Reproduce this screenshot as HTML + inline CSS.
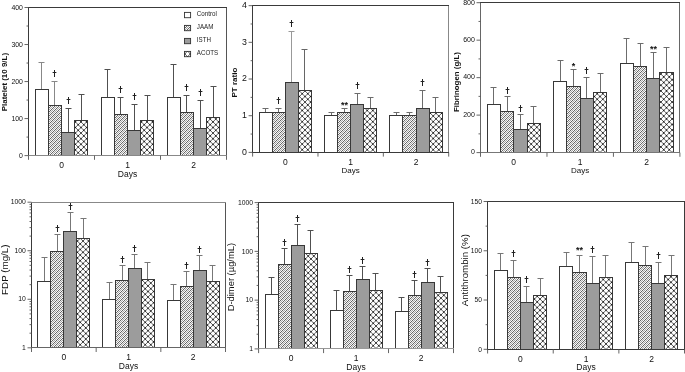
<!DOCTYPE html>
<html><head><meta charset="utf-8"><title>Figure</title>
<style>html,body{margin:0;padding:0;background:#fff;}body{width:685px;height:372px;position:relative;overflow:hidden;font-family:"Liberation Sans",sans-serif;}</style>
</head><body>
<svg width="685" height="372" viewBox="0 0 685 372" style="position:absolute;left:0;top:0;transform:translateZ(0);will-change:transform">
<defs>
<pattern id="hj" width="4" height="4" patternUnits="userSpaceOnUse"><rect x="0" y="0" width="1" height="1" fill="#666"/><rect x="0" y="1" width="1" height="1" fill="#f0f0f0"/><rect x="0" y="2" width="1" height="1" fill="#a6a6a6"/><rect x="0" y="3" width="1" height="1" fill="#fcfcfc"/><rect x="1" y="0" width="1" height="1" fill="#f0f0f0"/><rect x="1" y="1" width="1" height="1" fill="#a6a6a6"/><rect x="1" y="2" width="1" height="1" fill="#fcfcfc"/><rect x="1" y="3" width="1" height="1" fill="#666"/><rect x="2" y="0" width="1" height="1" fill="#a6a6a6"/><rect x="2" y="1" width="1" height="1" fill="#fcfcfc"/><rect x="2" y="2" width="1" height="1" fill="#666"/><rect x="2" y="3" width="1" height="1" fill="#f0f0f0"/><rect x="3" y="0" width="1" height="1" fill="#fcfcfc"/><rect x="3" y="1" width="1" height="1" fill="#666"/><rect x="3" y="2" width="1" height="1" fill="#f0f0f0"/><rect x="3" y="3" width="1" height="1" fill="#a6a6a6"/></pattern>
<g id="hat"><rect x="-9" y="-160" width="18" height="161" fill="#fff"/><path d="M-8,-152 L8,-168 M-8,-149.87 L8,-165.87 M-8,-147.74 L8,-163.74 M-8,-145.61 L8,-161.61 M-8,-143.48 L8,-159.48 M-8,-141.35 L8,-157.35 M-8,-139.22 L8,-155.22 M-8,-137.09 L8,-153.09 M-8,-134.96 L8,-150.96 M-8,-132.83 L8,-148.83 M-8,-130.7 L8,-146.7 M-8,-128.57 L8,-144.57 M-8,-126.44 L8,-142.44 M-8,-124.31 L8,-140.31 M-8,-122.18 L8,-138.18 M-8,-120.05 L8,-136.05 M-8,-117.92 L8,-133.92 M-8,-115.79 L8,-131.79 M-8,-113.66 L8,-129.66 M-8,-111.53 L8,-127.53 M-8,-109.4 L8,-125.4 M-8,-107.27 L8,-123.27 M-8,-105.14 L8,-121.14 M-8,-103.01 L8,-119.01 M-8,-100.88 L8,-116.88 M-8,-98.75 L8,-114.75 M-8,-96.62 L8,-112.62 M-8,-94.49 L8,-110.49 M-8,-92.36 L8,-108.36 M-8,-90.23 L8,-106.23 M-8,-88.1 L8,-104.1 M-8,-85.97 L8,-101.97 M-8,-83.84 L8,-99.84 M-8,-81.71 L8,-97.71 M-8,-79.58 L8,-95.58 M-8,-77.45 L8,-93.45 M-8,-75.32 L8,-91.32 M-8,-73.19 L8,-89.19 M-8,-71.06 L8,-87.06 M-8,-68.93 L8,-84.93 M-8,-66.8 L8,-82.8 M-8,-64.67 L8,-80.67 M-8,-62.54 L8,-78.54 M-8,-60.41 L8,-76.41 M-8,-58.28 L8,-74.28 M-8,-56.15 L8,-72.15 M-8,-54.02 L8,-70.02 M-8,-51.89 L8,-67.89 M-8,-49.76 L8,-65.76 M-8,-47.63 L8,-63.63 M-8,-45.5 L8,-61.5 M-8,-43.37 L8,-59.37 M-8,-41.24 L8,-57.24 M-8,-39.11 L8,-55.11 M-8,-36.98 L8,-52.98 M-8,-34.85 L8,-50.85 M-8,-32.72 L8,-48.72 M-8,-30.59 L8,-46.59 M-8,-28.46 L8,-44.46 M-8,-26.33 L8,-42.33 M-8,-24.2 L8,-40.2 M-8,-22.07 L8,-38.07 M-8,-19.94 L8,-35.94 M-8,-17.81 L8,-33.81 M-8,-15.68 L8,-31.68 M-8,-13.55 L8,-29.55 M-8,-11.42 L8,-27.42 M-8,-9.29 L8,-25.29 M-8,-7.16 L8,-23.16 M-8,-5.03 L8,-21.03 M-8,-2.9 L8,-18.9 M-8,-0.77 L8,-16.77 M-8,1.36 L8,-14.64 M-8,3.49 L8,-12.51 M-8,5.62 L8,-10.38 M-8,7.75 L8,-8.25 M-8,9.88 L8,-6.12 M-8,12.01 L8,-3.99 M-8,14.14 L8,-1.86 M-8,16.27 L8,0.27" stroke="#4a4a4a" stroke-width="0.85" fill="none"/></g>
<g id="lat"><rect x="-9" y="-160" width="18" height="161" fill="#fff"/><path d="M-179.2,0 L-9.2,-170 M-173.6,0 L-3.6,-170 M-168,0 L2,-170 M-162.4,0 L7.6,-170 M-156.8,0 L13.2,-170 M-151.2,0 L18.8,-170 M-145.6,0 L24.4,-170 M-140,0 L30,-170 M-134.4,0 L35.6,-170 M-128.8,0 L41.2,-170 M-123.2,0 L46.8,-170 M-117.6,0 L52.4,-170 M-112,0 L58,-170 M-106.4,0 L63.6,-170 M-100.8,0 L69.2,-170 M-95.2,0 L74.8,-170 M-89.6,0 L80.4,-170 M-84,0 L86,-170 M-78.4,0 L91.6,-170 M-72.8,0 L97.2,-170 M-67.2,0 L102.8,-170 M-61.6,0 L108.4,-170 M-56,0 L114,-170 M-50.4,0 L119.6,-170 M-44.8,0 L125.2,-170 M-39.2,0 L130.8,-170 M-33.6,0 L136.4,-170 M-28,0 L142,-170 M-22.4,0 L147.6,-170 M-16.8,0 L153.2,-170 M-11.2,0 L158.8,-170 M-5.6,0 L164.4,-170 M0,0 L170,-170 M5.6,0 L175.6,-170 M11.2,0 L181.2,-170 M16.8,0 L186.8,-170 M-16.8,0 L-186.8,-170 M-11.2,0 L-181.2,-170 M-5.6,0 L-175.6,-170 M0,0 L-170,-170 M5.6,0 L-164.4,-170 M11.2,0 L-158.8,-170 M16.8,0 L-153.2,-170 M22.4,0 L-147.6,-170 M28,0 L-142,-170 M33.6,0 L-136.4,-170 M39.2,0 L-130.8,-170 M44.8,0 L-125.2,-170 M50.4,0 L-119.6,-170 M56,0 L-114,-170 M61.6,0 L-108.4,-170 M67.2,0 L-102.8,-170 M72.8,0 L-97.2,-170 M78.4,0 L-91.6,-170 M84,0 L-86,-170 M89.6,0 L-80.4,-170 M95.2,0 L-74.8,-170 M100.8,0 L-69.2,-170 M106.4,0 L-63.6,-170 M112,0 L-58,-170 M117.6,0 L-52.4,-170 M123.2,0 L-46.8,-170 M128.8,0 L-41.2,-170 M134.4,0 L-35.6,-170 M140,0 L-30,-170 M145.6,0 L-24.4,-170 M151.2,0 L-18.8,-170 M156.8,0 L-13.2,-170 M162.4,0 L-7.6,-170 M168,0 L-2,-170 M173.6,0 L3.6,-170 M179.2,0 L9.2,-170" stroke="#444" stroke-width="0.85" fill="none"/><path d="M-179.2,0 L-9.2,-170 M-173.6,0 L-3.6,-170 M-168,0 L2,-170 M-162.4,0 L7.6,-170 M-156.8,0 L13.2,-170 M-151.2,0 L18.8,-170 M-145.6,0 L24.4,-170 M-140,0 L30,-170 M-134.4,0 L35.6,-170 M-128.8,0 L41.2,-170 M-123.2,0 L46.8,-170 M-117.6,0 L52.4,-170 M-112,0 L58,-170 M-106.4,0 L63.6,-170 M-100.8,0 L69.2,-170 M-95.2,0 L74.8,-170 M-89.6,0 L80.4,-170 M-84,0 L86,-170 M-78.4,0 L91.6,-170 M-72.8,0 L97.2,-170 M-67.2,0 L102.8,-170 M-61.6,0 L108.4,-170 M-56,0 L114,-170 M-50.4,0 L119.6,-170 M-44.8,0 L125.2,-170 M-39.2,0 L130.8,-170 M-33.6,0 L136.4,-170 M-28,0 L142,-170 M-22.4,0 L147.6,-170 M-16.8,0 L153.2,-170 M-11.2,0 L158.8,-170 M-5.6,0 L164.4,-170 M0,0 L170,-170 M5.6,0 L175.6,-170 M11.2,0 L181.2,-170 M16.8,0 L186.8,-170" stroke="#1a1a1a" stroke-width="1.55" stroke-linecap="round" stroke-dasharray="0 3.96" fill="none"/></g>
</defs>
<rect width="685" height="372" fill="#fff"/>
<g font-family="Liberation Sans, sans-serif" fill="#111">
<path d="M41.5,89.5 V62 M38.5,62.5 H44.5" stroke="#888" stroke-width="1" fill="none"/>
<rect x="35.5" y="89.5" width="13" height="66" fill="#fff" stroke="#383838" stroke-width="1"/>
<path d="M54.5,105.5 V81 M51.5,81.5 H57.5" stroke="#888" stroke-width="1" fill="none"/>
<rect x="48.5" y="105.5" width="13" height="50" fill="url(#hj)" stroke="#383838" stroke-width="1"/>
<path d="M54.5,70 V77 M52.6,72.5 H56.4" stroke="#222" stroke-width="1" fill="none"/>
<path d="M68.5,132.5 V108 M65.5,108.5 H71.5" stroke="#505050" stroke-width="1" fill="none"/>
<rect x="61.5" y="132.5" width="13" height="23" fill="#9c9c9c" stroke="#383838" stroke-width="1"/>
<path d="M68.5,97 V104 M66.6,99.5 H70.4" stroke="#222" stroke-width="1" fill="none"/>
<path d="M81.5,120.5 V94 M78.5,94.5 H84.5" stroke="#505050" stroke-width="1" fill="none"/>
<svg x="74.5" y="120.5" width="13" height="35" viewBox="-6.5 -35 13 35"><use href="#lat"/></svg>
<rect x="74.5" y="120.5" width="13" height="35" fill="none" stroke="#383838" stroke-width="1"/>
<path d="M107.5,97.5 V69 M104.5,69.5 H110.5" stroke="#505050" stroke-width="1" fill="none"/>
<rect x="101.5" y="97.5" width="13" height="58" fill="#fff" stroke="#383838" stroke-width="1"/>
<path d="M120.5,114.5 V97 M117.5,97.5 H123.5" stroke="#505050" stroke-width="1" fill="none"/>
<rect x="114.5" y="114.5" width="13" height="41" fill="url(#hj)" stroke="#383838" stroke-width="1"/>
<path d="M120.5,86 V93 M118.6,88.5 H122.4" stroke="#222" stroke-width="1" fill="none"/>
<path d="M134.5,130.5 V104 M131.5,104.5 H137.5" stroke="#505050" stroke-width="1" fill="none"/>
<rect x="127.5" y="130.5" width="13" height="25" fill="#9c9c9c" stroke="#383838" stroke-width="1"/>
<path d="M134.5,93 V100 M132.6,95.5 H136.4" stroke="#222" stroke-width="1" fill="none"/>
<path d="M147.5,120.5 V95 M144.5,95.5 H150.5" stroke="#505050" stroke-width="1" fill="none"/>
<svg x="140.5" y="120.5" width="13" height="35" viewBox="-6.5 -35 13 35"><use href="#lat"/></svg>
<rect x="140.5" y="120.5" width="13" height="35" fill="none" stroke="#383838" stroke-width="1"/>
<path d="M173.5,97.5 V64 M170.5,64.5 H176.5" stroke="#505050" stroke-width="1" fill="none"/>
<rect x="167.5" y="97.5" width="13" height="58" fill="#fff" stroke="#383838" stroke-width="1"/>
<path d="M186.5,112.5 V95 M183.5,95.5 H189.5" stroke="#505050" stroke-width="1" fill="none"/>
<rect x="180.5" y="112.5" width="13" height="43" fill="url(#hj)" stroke="#383838" stroke-width="1"/>
<path d="M186.5,84 V91 M184.6,86.5 H188.4" stroke="#222" stroke-width="1" fill="none"/>
<path d="M200.5,128.5 V100 M197.5,100.5 H203.5" stroke="#505050" stroke-width="1" fill="none"/>
<rect x="193.5" y="128.5" width="13" height="27" fill="#9c9c9c" stroke="#383838" stroke-width="1"/>
<path d="M200.5,89 V96 M198.6,91.5 H202.4" stroke="#222" stroke-width="1" fill="none"/>
<path d="M213.5,117.5 V86 M210.5,86.5 H216.5" stroke="#505050" stroke-width="1" fill="none"/>
<svg x="206.5" y="117.5" width="13" height="38" viewBox="-6.5 -38 13 38"><use href="#lat"/></svg>
<rect x="206.5" y="117.5" width="13" height="38" fill="none" stroke="#383838" stroke-width="1"/>
<path d="M28.5,7 V156" stroke="#3a3a3a" stroke-width="1"/>
<path d="M226.5,7 V156" stroke="#555" stroke-width="1"/>
<path d="M28,7.5 H227" stroke="#3a3a3a" stroke-width="1"/>
<path d="M28,155.5 H227" stroke="#888" stroke-width="1"/>
<text x="22.9" y="157.68" font-size="6.9" text-anchor="end">0</text>
<text x="22.9" y="120.66" font-size="6.9" text-anchor="end">100</text>
<text x="22.9" y="83.63" font-size="6.9" text-anchor="end">200</text>
<text x="22.9" y="46.61" font-size="6.9" text-anchor="end">300</text>
<text x="22.9" y="9.58" font-size="6.9" text-anchor="end">400</text>
<path d="M24.5,155.6 H28.5 M24.5,118.57 H28.5 M24.5,81.55 H28.5 M24.5,44.53 H28.5 M24.5,7.5 H28.5 M26.5,137.09 H28.5 M26.5,100.06 H28.5 M26.5,63.04 H28.5 M26.5,26.01 H28.5 M28.5,155.6 V159.8 M94.5,155.6 V159.8 M160.5,155.6 V159.8 M226.5,155.6 V159.8" stroke="#555" stroke-width="0.9" fill="none"/>
<text x="61.5" y="167.8" font-size="8.5" text-anchor="middle">0</text>
<text x="127.5" y="167.8" font-size="8.5" text-anchor="middle">1</text>
<text x="193.5" y="167.8" font-size="8.5" text-anchor="middle">2</text>
<text x="127.5" y="177.3" font-size="8.5" text-anchor="middle">Days</text>
<text transform="translate(7.06,82.1) rotate(-90)" font-size="7.95" text-anchor="middle" font-weight="bold">Platelet (10 9/L)</text>
</g>
<g font-family="Liberation Sans, sans-serif" fill="#111">
<path d="M265.5,112.5 V108 M262.5,108.5 H268.5" stroke="#6c6c6c" stroke-width="1" fill="none"/>
<rect x="259.5" y="112.5" width="13" height="40" fill="#fff" stroke="#383838" stroke-width="1"/>
<path d="M278.5,112.5 V108 M275.5,108.5 H281.5" stroke="#6c6c6c" stroke-width="1" fill="none"/>
<rect x="272.5" y="112.5" width="13" height="40" fill="url(#hj)" stroke="#383838" stroke-width="1"/>
<path d="M278.5,97 V104 M276.6,99.5 H280.4" stroke="#222" stroke-width="1" fill="none"/>
<path d="M291.5,82.5 V31 M288.5,31.5 H294.5" stroke="#999" stroke-width="1" fill="none"/>
<rect x="285.5" y="82.5" width="13" height="70" fill="#9c9c9c" stroke="#383838" stroke-width="1"/>
<path d="M291.5,20 V27 M289.6,22.5 H293.4" stroke="#222" stroke-width="1" fill="none"/>
<path d="M304.5,90.5 V49 M301.5,49.5 H307.5" stroke="#666" stroke-width="1" fill="none"/>
<svg x="298.5" y="90.5" width="13" height="62" viewBox="-6.5 -62 13 62"><use href="#lat"/></svg>
<rect x="298.5" y="90.5" width="13" height="62" fill="none" stroke="#383838" stroke-width="1"/>
<path d="M331.5,115.5 V112 M328.5,112.5 H334.5" stroke="#6c6c6c" stroke-width="1" fill="none"/>
<rect x="324.5" y="115.5" width="13" height="37" fill="#fff" stroke="#383838" stroke-width="1"/>
<path d="M344.5,112.5 V108 M341.5,108.5 H347.5" stroke="#6c6c6c" stroke-width="1" fill="none"/>
<rect x="337.5" y="112.5" width="13" height="40" fill="url(#hj)" stroke="#383838" stroke-width="1"/>
<text x="344.5" y="107.5" font-size="9" font-weight="bold" text-anchor="middle">**</text>
<path d="M357.5,104.5 V93 M354.5,93.5 H360.5" stroke="#6c6c6c" stroke-width="1" fill="none"/>
<rect x="350.5" y="104.5" width="13" height="48" fill="#9c9c9c" stroke="#383838" stroke-width="1"/>
<path d="M357.5,82 V89 M355.6,84.5 H359.4" stroke="#222" stroke-width="1" fill="none"/>
<path d="M370.5,108.5 V97 M367.5,97.5 H373.5" stroke="#6c6c6c" stroke-width="1" fill="none"/>
<svg x="363.5" y="108.5" width="13" height="44" viewBox="-6.5 -44 13 44"><use href="#lat"/></svg>
<rect x="363.5" y="108.5" width="13" height="44" fill="none" stroke="#383838" stroke-width="1"/>
<path d="M396.5,115.5 V112 M393.5,112.5 H399.5" stroke="#6c6c6c" stroke-width="1" fill="none"/>
<rect x="389.5" y="115.5" width="13" height="37" fill="#fff" stroke="#383838" stroke-width="1"/>
<path d="M409.5,115.5 V112 M406.5,112.5 H412.5" stroke="#6c6c6c" stroke-width="1" fill="none"/>
<rect x="402.5" y="115.5" width="14" height="37" fill="url(#hj)" stroke="#383838" stroke-width="1"/>
<path d="M422.5,108.5 V90 M419.5,90.5 H425.5" stroke="#6c6c6c" stroke-width="1" fill="none"/>
<rect x="416.5" y="108.5" width="13" height="44" fill="#9c9c9c" stroke="#383838" stroke-width="1"/>
<path d="M422.5,79 V86 M420.6,81.5 H424.4" stroke="#222" stroke-width="1" fill="none"/>
<path d="M435.5,112.5 V97 M432.5,97.5 H438.5" stroke="#6c6c6c" stroke-width="1" fill="none"/>
<svg x="429.5" y="112.5" width="13" height="40" viewBox="-6.5 -40 13 40"><use href="#lat"/></svg>
<rect x="429.5" y="112.5" width="13" height="40" fill="none" stroke="#383838" stroke-width="1"/>
<path d="M252.5,5 V153" stroke="#3a3a3a" stroke-width="1"/>
<path d="M448.5,5 V153" stroke="#888" stroke-width="1"/>
<path d="M252,5.5 H449" stroke="#3a3a3a" stroke-width="1"/>
<path d="M252,152.5 H449" stroke="#3a3a3a" stroke-width="1"/>
<text x="247" y="154.87" font-size="8.8" text-anchor="end">0</text>
<text x="247" y="118.18" font-size="8.8" text-anchor="end">1</text>
<text x="247" y="81.49" font-size="8.8" text-anchor="end">2</text>
<text x="247" y="44.81" font-size="8.8" text-anchor="end">3</text>
<text x="247" y="8.12" font-size="8.8" text-anchor="end">4</text>
<path d="M248.6,152.4 H252.6 M248.6,115.71 H252.6 M248.6,79.03 H252.6 M248.6,42.34 H252.6 M248.6,5.65 H252.6 M250.6,134.06 H252.6 M250.6,97.37 H252.6 M250.6,60.68 H252.6 M250.6,23.99 H252.6 M252.6,152.4 V156.6 M317.97,152.4 V156.6 M383.33,152.4 V156.6 M448.7,152.4 V156.6" stroke="#555" stroke-width="0.9" fill="none"/>
<text x="285.28" y="164.6" font-size="8.5" text-anchor="middle">0</text>
<text x="350.65" y="164.6" font-size="8.5" text-anchor="middle">1</text>
<text x="416.02" y="164.6" font-size="8.5" text-anchor="middle">2</text>
<text x="350.65" y="173.2" font-size="8" text-anchor="middle">Days</text>
<text transform="translate(236.88,82.6) rotate(-90)" font-size="8.0" text-anchor="middle" font-weight="bold">PT ratio</text>
</g>
<g font-family="Liberation Sans, sans-serif" fill="#111">
<path d="M493.5,104.5 V87 M490.5,87.5 H496.5" stroke="#6c6c6c" stroke-width="1" fill="none"/>
<rect x="487.5" y="104.5" width="13" height="48" fill="#fff" stroke="#383838" stroke-width="1"/>
<path d="M507.5,111.5 V96 M504.5,96.5 H510.5" stroke="#6c6c6c" stroke-width="1" fill="none"/>
<rect x="500.5" y="111.5" width="13" height="41" fill="url(#hj)" stroke="#383838" stroke-width="1"/>
<path d="M507.5,87 V94 M505.6,89.5 H509.4" stroke="#222" stroke-width="1" fill="none"/>
<path d="M520.5,129.5 V114 M517.5,114.5 H523.5" stroke="#6c6c6c" stroke-width="1" fill="none"/>
<rect x="513.5" y="129.5" width="14" height="23" fill="#9c9c9c" stroke="#383838" stroke-width="1"/>
<path d="M520.5,105 V112 M518.6,107.5 H522.4" stroke="#222" stroke-width="1" fill="none"/>
<path d="M533.5,123.5 V106 M530.5,106.5 H536.5" stroke="#6c6c6c" stroke-width="1" fill="none"/>
<svg x="527.5" y="123.5" width="13" height="29" viewBox="-6.5 -29 13 29"><use href="#lat"/></svg>
<rect x="527.5" y="123.5" width="13" height="29" fill="none" stroke="#383838" stroke-width="1"/>
<path d="M560.5,81.5 V60 M557.5,60.5 H563.5" stroke="#6c6c6c" stroke-width="1" fill="none"/>
<rect x="553.5" y="81.5" width="13" height="71" fill="#fff" stroke="#383838" stroke-width="1"/>
<path d="M573.5,86.5 V69 M570.5,69.5 H576.5" stroke="#6c6c6c" stroke-width="1" fill="none"/>
<rect x="566.5" y="86.5" width="14" height="66" fill="url(#hj)" stroke="#383838" stroke-width="1"/>
<text x="573.5" y="69.1" font-size="9" font-weight="bold" text-anchor="middle">*</text>
<path d="M586.5,98.5 V77 M583.5,77.5 H589.5" stroke="#6c6c6c" stroke-width="1" fill="none"/>
<rect x="580.5" y="98.5" width="13" height="54" fill="#9c9c9c" stroke="#383838" stroke-width="1"/>
<path d="M586.5,67 V74 M584.6,69.5 H588.4" stroke="#222" stroke-width="1" fill="none"/>
<path d="M600.5,92.5 V73 M597.5,73.5 H603.5" stroke="#6c6c6c" stroke-width="1" fill="none"/>
<svg x="593.5" y="92.5" width="13" height="60" viewBox="-6.5 -60 13 60"><use href="#lat"/></svg>
<rect x="593.5" y="92.5" width="13" height="60" fill="none" stroke="#383838" stroke-width="1"/>
<path d="M626.5,63.5 V38 M623.5,38.5 H629.5" stroke="#6c6c6c" stroke-width="1" fill="none"/>
<rect x="620.5" y="63.5" width="13" height="89" fill="#fff" stroke="#383838" stroke-width="1"/>
<path d="M640.5,66.5 V43 M637.5,43.5 H643.5" stroke="#6c6c6c" stroke-width="1" fill="none"/>
<rect x="633.5" y="66.5" width="13" height="86" fill="url(#hj)" stroke="#383838" stroke-width="1"/>
<path d="M653.5,78.5 V52 M650.5,52.5 H656.5" stroke="#6c6c6c" stroke-width="1" fill="none"/>
<rect x="646.5" y="78.5" width="13" height="74" fill="#9c9c9c" stroke="#383838" stroke-width="1"/>
<text x="653.5" y="51.7" font-size="9" font-weight="bold" text-anchor="middle">**</text>
<path d="M666.5,72.5 V47 M663.5,47.5 H669.5" stroke="#6c6c6c" stroke-width="1" fill="none"/>
<svg x="659.5" y="72.5" width="14" height="80" viewBox="-7 -80 14 80"><use href="#lat"/></svg>
<rect x="659.5" y="72.5" width="14" height="80" fill="none" stroke="#383838" stroke-width="1"/>
<path d="M480.5,2 V153" stroke="#666" stroke-width="1"/>
<path d="M679.5,2 V153" stroke="#666" stroke-width="1"/>
<path d="M480,2.5 H680" stroke="#3a3a3a" stroke-width="1"/>
<path d="M480,152.5 H680" stroke="#777" stroke-width="1"/>
<text x="474.9" y="154.42" font-size="7.0" text-anchor="end">0</text>
<text x="474.9" y="116.94" font-size="7.0" text-anchor="end">200</text>
<text x="474.9" y="79.47" font-size="7.0" text-anchor="end">400</text>
<text x="474.9" y="41.99" font-size="7.0" text-anchor="end">600</text>
<text x="474.9" y="4.52" font-size="7.0" text-anchor="end">800</text>
<path d="M476.5,152.6 H480.5 M476.5,115.12 H480.5 M476.5,77.65 H480.5 M476.5,40.17 H480.5 M476.5,2.7 H480.5 M478.5,133.86 H480.5 M478.5,96.39 H480.5 M478.5,58.91 H480.5 M478.5,21.44 H480.5 M480.5,152.6 V156.8 M546.97,152.6 V156.8 M613.43,152.6 V156.8 M679.9,152.6 V156.8" stroke="#555" stroke-width="0.9" fill="none"/>
<text x="513.73" y="164.8" font-size="8.5" text-anchor="middle">0</text>
<text x="580.2" y="164.8" font-size="8.5" text-anchor="middle">1</text>
<text x="646.67" y="164.8" font-size="8.5" text-anchor="middle">2</text>
<text x="580.2" y="173.4" font-size="8" text-anchor="middle">Days</text>
<text transform="translate(458.53,82.1) rotate(-90)" font-size="7.87" text-anchor="middle" font-weight="bold">Fibrinogen (g/L)</text>
</g>
<g font-family="Liberation Sans, sans-serif" fill="#111">
<path d="M44.5,281.5 V257 M41.5,257.5 H47.5" stroke="#777" stroke-width="1" fill="none"/>
<rect x="37.5" y="281.5" width="13" height="66" fill="#fff" stroke="#383838" stroke-width="1"/>
<path d="M57.5,251.5 V234 M54.5,234.5 H60.5" stroke="#777" stroke-width="1" fill="none"/>
<rect x="50.5" y="251.5" width="13" height="96" fill="url(#hj)" stroke="#383838" stroke-width="1"/>
<path d="M57.5,225 V232 M55.6,227.5 H59.4" stroke="#222" stroke-width="1" fill="none"/>
<path d="M70.5,231.5 V212 M67.5,212.5 H73.5" stroke="#777" stroke-width="1" fill="none"/>
<rect x="63.5" y="231.5" width="13" height="116" fill="#9c9c9c" stroke="#383838" stroke-width="1"/>
<path d="M70.5,203 V210 M68.6,205.5 H72.4" stroke="#222" stroke-width="1" fill="none"/>
<path d="M83.5,238.5 V218 M80.5,218.5 H86.5" stroke="#777" stroke-width="1" fill="none"/>
<svg x="76.5" y="238.5" width="13" height="109" viewBox="-6.5 -109 13 109"><use href="#lat"/></svg>
<rect x="76.5" y="238.5" width="13" height="109" fill="none" stroke="#383838" stroke-width="1"/>
<path d="M109.5,299.5 V282 M106.5,282.5 H112.5" stroke="#777" stroke-width="1" fill="none"/>
<rect x="102.5" y="299.5" width="13" height="48" fill="#fff" stroke="#383838" stroke-width="1"/>
<path d="M122.5,280.5 V265 M119.5,265.5 H125.5" stroke="#777" stroke-width="1" fill="none"/>
<rect x="115.5" y="280.5" width="13" height="67" fill="url(#hj)" stroke="#383838" stroke-width="1"/>
<path d="M122.5,256 V263 M120.6,258.5 H124.4" stroke="#222" stroke-width="1" fill="none"/>
<path d="M134.5,268.5 V254 M131.5,254.5 H137.5" stroke="#777" stroke-width="1" fill="none"/>
<rect x="128.5" y="268.5" width="13" height="79" fill="#9c9c9c" stroke="#383838" stroke-width="1"/>
<path d="M134.5,245 V252 M132.6,247.5 H136.4" stroke="#222" stroke-width="1" fill="none"/>
<path d="M147.5,279.5 V262 M144.5,262.5 H150.5" stroke="#777" stroke-width="1" fill="none"/>
<svg x="141.5" y="279.5" width="13" height="68" viewBox="-6.5 -68 13 68"><use href="#lat"/></svg>
<rect x="141.5" y="279.5" width="13" height="68" fill="none" stroke="#383838" stroke-width="1"/>
<path d="M173.5,300.5 V284 M170.5,284.5 H176.5" stroke="#777" stroke-width="1" fill="none"/>
<rect x="167.5" y="300.5" width="13" height="47" fill="#fff" stroke="#383838" stroke-width="1"/>
<path d="M186.5,286.5 V271 M183.5,271.5 H189.5" stroke="#777" stroke-width="1" fill="none"/>
<rect x="180.5" y="286.5" width="13" height="61" fill="url(#hj)" stroke="#383838" stroke-width="1"/>
<path d="M186.5,262 V269 M184.6,264.5 H188.4" stroke="#222" stroke-width="1" fill="none"/>
<path d="M199.5,270.5 V255 M196.5,255.5 H202.5" stroke="#777" stroke-width="1" fill="none"/>
<rect x="193.5" y="270.5" width="13" height="77" fill="#9c9c9c" stroke="#383838" stroke-width="1"/>
<path d="M199.5,246 V253 M197.6,248.5 H201.4" stroke="#222" stroke-width="1" fill="none"/>
<path d="M212.5,281.5 V265 M209.5,265.5 H215.5" stroke="#777" stroke-width="1" fill="none"/>
<svg x="206.5" y="281.5" width="13" height="66" viewBox="-6.5 -66 13 66"><use href="#lat"/></svg>
<rect x="206.5" y="281.5" width="13" height="66" fill="none" stroke="#383838" stroke-width="1"/>
<path d="M31.5,202 V348" stroke="#3a3a3a" stroke-width="1"/>
<path d="M225.5,202 V348" stroke="#555" stroke-width="1"/>
<path d="M31,202.5 H226" stroke="#888" stroke-width="1"/>
<path d="M31,347.5 H226" stroke="#666" stroke-width="1"/>
<text x="25.9" y="349.95" font-size="6.8" text-anchor="end">1</text>
<text x="25.9" y="301.41" font-size="6.8" text-anchor="end">10</text>
<text x="25.9" y="252.88" font-size="6.8" text-anchor="end">100</text>
<text x="25.9" y="204.35" font-size="6.8" text-anchor="end">1000</text>
<path d="M27.5,347.8 H31.5 M27.5,299.27 H31.5 M27.5,250.73 H31.5 M27.5,202.2 H31.5 M29.5,333.19 H31.5 M29.5,324.64 H31.5 M29.5,318.58 H31.5 M29.5,313.88 H31.5 M29.5,310.03 H31.5 M29.5,306.78 H31.5 M29.5,303.97 H31.5 M29.5,301.49 H31.5 M29.5,284.66 H31.5 M29.5,276.11 H31.5 M29.5,270.05 H31.5 M29.5,265.34 H31.5 M29.5,261.5 H31.5 M29.5,258.25 H31.5 M29.5,255.44 H31.5 M29.5,252.95 H31.5 M29.5,236.12 H31.5 M29.5,227.58 H31.5 M29.5,221.51 H31.5 M29.5,216.81 H31.5 M29.5,212.97 H31.5 M29.5,209.72 H31.5 M29.5,206.9 H31.5 M29.5,204.42 H31.5 M31.5,347.8 V352 M96.17,347.8 V352 M160.83,347.8 V352 M225.5,347.8 V352" stroke="#555" stroke-width="0.9" fill="none"/>
<text x="63.83" y="360" font-size="8.5" text-anchor="middle">0</text>
<text x="128.5" y="360" font-size="8.5" text-anchor="middle">1</text>
<text x="193.17" y="360" font-size="8.5" text-anchor="middle">2</text>
<text x="128.5" y="369.1" font-size="8.5" text-anchor="middle">Days</text>
<text transform="translate(7.83,269.7) rotate(-90)" font-size="9.8" text-anchor="middle">FDP (mg/L)</text>
</g>
<g font-family="Liberation Sans, sans-serif" fill="#111">
<path d="M271.5,294.5 V277 M268.5,277.5 H274.5" stroke="#505050" stroke-width="1" fill="none"/>
<rect x="265.5" y="294.5" width="13" height="54" fill="#fff" stroke="#383838" stroke-width="1"/>
<path d="M284.5,264.5 V248 M281.5,248.5 H287.5" stroke="#505050" stroke-width="1" fill="none"/>
<rect x="278.5" y="264.5" width="13" height="84" fill="url(#hj)" stroke="#383838" stroke-width="1"/>
<path d="M284.5,239 V246 M282.6,241.5 H286.4" stroke="#222" stroke-width="1" fill="none"/>
<path d="M297.5,245.5 V224 M294.5,224.5 H300.5" stroke="#505050" stroke-width="1" fill="none"/>
<rect x="291.5" y="245.5" width="13" height="103" fill="#9c9c9c" stroke="#383838" stroke-width="1"/>
<path d="M297.5,215 V222 M295.6,217.5 H299.4" stroke="#222" stroke-width="1" fill="none"/>
<path d="M310.5,253.5 V230 M307.5,230.5 H313.5" stroke="#505050" stroke-width="1" fill="none"/>
<svg x="304.5" y="253.5" width="13" height="95" viewBox="-6.5 -95 13 95"><use href="#lat"/></svg>
<rect x="304.5" y="253.5" width="13" height="95" fill="none" stroke="#383838" stroke-width="1"/>
<path d="M336.5,310.5 V290 M333.5,290.5 H339.5" stroke="#505050" stroke-width="1" fill="none"/>
<rect x="330.5" y="310.5" width="13" height="38" fill="#fff" stroke="#383838" stroke-width="1"/>
<path d="M349.5,291.5 V275 M346.5,275.5 H352.5" stroke="#505050" stroke-width="1" fill="none"/>
<rect x="343.5" y="291.5" width="13" height="57" fill="url(#hj)" stroke="#383838" stroke-width="1"/>
<path d="M349.5,266 V273 M347.6,268.5 H351.4" stroke="#222" stroke-width="1" fill="none"/>
<path d="M362.5,279.5 V266 M359.5,266.5 H365.5" stroke="#505050" stroke-width="1" fill="none"/>
<rect x="356.5" y="279.5" width="13" height="69" fill="#9c9c9c" stroke="#383838" stroke-width="1"/>
<path d="M362.5,257 V264 M360.6,259.5 H364.4" stroke="#222" stroke-width="1" fill="none"/>
<path d="M375.5,290.5 V273 M372.5,273.5 H378.5" stroke="#505050" stroke-width="1" fill="none"/>
<svg x="369.5" y="290.5" width="13" height="58" viewBox="-6.5 -58 13 58"><use href="#lat"/></svg>
<rect x="369.5" y="290.5" width="13" height="58" fill="none" stroke="#383838" stroke-width="1"/>
<path d="M401.5,311.5 V297 M398.5,297.5 H404.5" stroke="#505050" stroke-width="1" fill="none"/>
<rect x="395.5" y="311.5" width="13" height="37" fill="#fff" stroke="#383838" stroke-width="1"/>
<path d="M414.5,295.5 V280 M411.5,280.5 H417.5" stroke="#505050" stroke-width="1" fill="none"/>
<rect x="408.5" y="295.5" width="13" height="53" fill="url(#hj)" stroke="#383838" stroke-width="1"/>
<path d="M414.5,271 V278 M412.6,273.5 H416.4" stroke="#222" stroke-width="1" fill="none"/>
<path d="M427.5,282.5 V268 M424.5,268.5 H430.5" stroke="#505050" stroke-width="1" fill="none"/>
<rect x="421.5" y="282.5" width="13" height="66" fill="#9c9c9c" stroke="#383838" stroke-width="1"/>
<path d="M427.5,259 V266 M425.6,261.5 H429.4" stroke="#222" stroke-width="1" fill="none"/>
<path d="M440.5,292.5 V276 M437.5,276.5 H443.5" stroke="#505050" stroke-width="1" fill="none"/>
<svg x="434.5" y="292.5" width="13" height="56" viewBox="-6.5 -56 13 56"><use href="#lat"/></svg>
<rect x="434.5" y="292.5" width="13" height="56" fill="none" stroke="#383838" stroke-width="1"/>
<path d="M258.5,202 V349" stroke="#3a3a3a" stroke-width="1"/>
<path d="M453.5,202 V349" stroke="#3a3a3a" stroke-width="1"/>
<path d="M258,202.5 H454" stroke="#3a3a3a" stroke-width="1"/>
<path d="M258,348.5 H454" stroke="#999" stroke-width="1"/>
<text x="253" y="351.05" font-size="6.8" text-anchor="end">1</text>
<text x="253" y="302.28" font-size="6.8" text-anchor="end">10</text>
<text x="253" y="253.51" font-size="6.8" text-anchor="end">100</text>
<text x="253" y="204.75" font-size="6.8" text-anchor="end">1000</text>
<path d="M254.6,348.9 H258.6 M254.6,300.13 H258.6 M254.6,251.37 H258.6 M254.6,202.6 H258.6 M256.6,334.22 H258.6 M256.6,325.63 H258.6 M256.6,319.54 H258.6 M256.6,314.81 H258.6 M256.6,310.95 H258.6 M256.6,307.69 H258.6 M256.6,304.86 H258.6 M256.6,302.36 H258.6 M256.6,285.45 H258.6 M256.6,276.87 H258.6 M256.6,270.77 H258.6 M256.6,266.05 H258.6 M256.6,262.19 H258.6 M256.6,258.92 H258.6 M256.6,256.09 H258.6 M256.6,253.6 H258.6 M256.6,236.69 H258.6 M256.6,228.1 H258.6 M256.6,222.01 H258.6 M256.6,217.28 H258.6 M256.6,213.42 H258.6 M256.6,210.15 H258.6 M256.6,207.33 H258.6 M256.6,204.83 H258.6 M258.6,348.9 V353.1 M323.57,348.9 V353.1 M388.53,348.9 V353.1 M453.5,348.9 V353.1" stroke="#555" stroke-width="0.9" fill="none"/>
<text x="291.08" y="361.1" font-size="8.5" text-anchor="middle">0</text>
<text x="356.05" y="361.1" font-size="8.5" text-anchor="middle">1</text>
<text x="421.02" y="361.1" font-size="8.5" text-anchor="middle">2</text>
<text x="356.05" y="369.9" font-size="8.5" text-anchor="middle">Days</text>
<text transform="translate(234.18,277.1) rotate(-90)" font-size="9.4" text-anchor="middle">D-dimer (µg/mL)</text>
</g>
<g font-family="Liberation Sans, sans-serif" fill="#111">
<path d="M500.5,270.5 V253 M497.5,253.5 H503.5" stroke="#777" stroke-width="1" fill="none"/>
<rect x="494.5" y="270.5" width="13" height="79" fill="#fff" stroke="#383838" stroke-width="1"/>
<path d="M513.5,277.5 V260 M510.5,260.5 H516.5" stroke="#777" stroke-width="1" fill="none"/>
<rect x="507.5" y="277.5" width="13" height="72" fill="url(#hj)" stroke="#383838" stroke-width="1"/>
<path d="M513.5,250 V257 M511.6,252.5 H515.4" stroke="#222" stroke-width="1" fill="none"/>
<path d="M526.5,302.5 V286 M523.5,286.5 H529.5" stroke="#777" stroke-width="1" fill="none"/>
<rect x="520.5" y="302.5" width="13" height="47" fill="#9c9c9c" stroke="#383838" stroke-width="1"/>
<path d="M526.5,276 V283 M524.6,278.5 H528.4" stroke="#222" stroke-width="1" fill="none"/>
<path d="M540.5,295.5 V278 M537.5,278.5 H543.5" stroke="#777" stroke-width="1" fill="none"/>
<svg x="533.5" y="295.5" width="13" height="54" viewBox="-6.5 -54 13 54"><use href="#lat"/></svg>
<rect x="533.5" y="295.5" width="13" height="54" fill="none" stroke="#383838" stroke-width="1"/>
<path d="M566.5,266.5 V252 M563.5,252.5 H569.5" stroke="#777" stroke-width="1" fill="none"/>
<rect x="559.5" y="266.5" width="13" height="83" fill="#fff" stroke="#383838" stroke-width="1"/>
<path d="M579.5,272.5 V255 M576.5,255.5 H582.5" stroke="#777" stroke-width="1" fill="none"/>
<rect x="572.5" y="272.5" width="14" height="77" fill="url(#hj)" stroke="#383838" stroke-width="1"/>
<text x="579.5" y="253.2" font-size="9" font-weight="bold" text-anchor="middle">**</text>
<path d="M592.5,283.5 V256 M589.5,256.5 H595.5" stroke="#777" stroke-width="1" fill="none"/>
<rect x="586.5" y="283.5" width="13" height="66" fill="#9c9c9c" stroke="#383838" stroke-width="1"/>
<path d="M592.5,246 V253 M590.6,248.5 H594.4" stroke="#222" stroke-width="1" fill="none"/>
<path d="M605.5,277.5 V255 M602.5,255.5 H608.5" stroke="#777" stroke-width="1" fill="none"/>
<svg x="599.5" y="277.5" width="13" height="72" viewBox="-6.5 -72 13 72"><use href="#lat"/></svg>
<rect x="599.5" y="277.5" width="13" height="72" fill="none" stroke="#383838" stroke-width="1"/>
<path d="M631.5,262.5 V242 M628.5,242.5 H634.5" stroke="#777" stroke-width="1" fill="none"/>
<rect x="625.5" y="262.5" width="13" height="87" fill="#fff" stroke="#383838" stroke-width="1"/>
<path d="M645.5,265.5 V246 M642.5,246.5 H648.5" stroke="#777" stroke-width="1" fill="none"/>
<rect x="638.5" y="265.5" width="13" height="84" fill="url(#hj)" stroke="#383838" stroke-width="1"/>
<path d="M658.5,283.5 V262 M655.5,262.5 H661.5" stroke="#777" stroke-width="1" fill="none"/>
<rect x="651.5" y="283.5" width="13" height="66" fill="#9c9c9c" stroke="#383838" stroke-width="1"/>
<path d="M658.5,252 V259 M656.6,254.5 H660.4" stroke="#222" stroke-width="1" fill="none"/>
<path d="M671.5,275.5 V255 M668.5,255.5 H674.5" stroke="#777" stroke-width="1" fill="none"/>
<svg x="664.5" y="275.5" width="13" height="74" viewBox="-6.5 -74 13 74"><use href="#lat"/></svg>
<rect x="664.5" y="275.5" width="13" height="74" fill="none" stroke="#383838" stroke-width="1"/>
<path d="M487.5,201 V350" stroke="#3a3a3a" stroke-width="1"/>
<path d="M684.5,201 V350" stroke="#3a3a3a" stroke-width="1"/>
<path d="M487,201.5 H685" stroke="#3a3a3a" stroke-width="1"/>
<path d="M487,349.5 H685" stroke="#3a3a3a" stroke-width="1"/>
<text x="482" y="351.71" font-size="6.7" text-anchor="end">0</text>
<text x="482" y="302.45" font-size="6.7" text-anchor="end">50</text>
<text x="482" y="253.18" font-size="6.7" text-anchor="end">100</text>
<text x="482" y="203.91" font-size="6.7" text-anchor="end">150</text>
<path d="M483.6,349.3 H487.6 M483.6,300.03 H487.6 M483.6,250.77 H487.6 M483.6,201.5 H487.6 M485.6,324.67 H487.6 M485.6,275.4 H487.6 M485.6,226.13 H487.6 M487.6,349.3 V353.5 M553.23,349.3 V353.5 M618.87,349.3 V353.5 M684.5,349.3 V353.5" stroke="#555" stroke-width="0.9" fill="none"/>
<text x="520.42" y="361.5" font-size="8.5" text-anchor="middle">0</text>
<text x="586.05" y="361.5" font-size="8.5" text-anchor="middle">1</text>
<text x="651.68" y="361.5" font-size="8.5" text-anchor="middle">2</text>
<text x="586.05" y="370.3" font-size="8.5" text-anchor="middle">Days</text>
<text transform="translate(467.79,270.2) rotate(-90)" font-size="9.7" text-anchor="middle">Antithrombin (%)</text>
</g>
<g font-family="Liberation Sans, sans-serif" font-size="6.9" fill="#222">
<rect x="184.5" y="12.4" width="6.1" height="5.3" fill="#fff" stroke="#333" stroke-width="0.9"/>
<text transform="translate(196.8,16.2) scale(0.9,1)">Control</text>
<rect x="184.5" y="25.4" width="6.1" height="5.3" fill="url(#hj)" stroke="#333" stroke-width="0.9"/>
<text transform="translate(196.8,29.2) scale(0.9,1)">JAAM</text>
<rect x="184.5" y="38.4" width="6.1" height="5.3" fill="#9c9c9c" stroke="#333" stroke-width="0.9"/>
<text transform="translate(196.8,42.2) scale(0.9,1)">ISTH</text>
<svg x="184.5" y="51.4" width="6.1" height="5.3" viewBox="-3.05 -5.3 6.1 5.3"><use href="#lat"/></svg>
<rect x="184.5" y="51.4" width="6.1" height="5.3" fill="none" stroke="#333" stroke-width="0.9"/>
<text transform="translate(196.8,55.2) scale(0.9,1)">ACOTS</text>
</g>
</svg>
</body></html>
